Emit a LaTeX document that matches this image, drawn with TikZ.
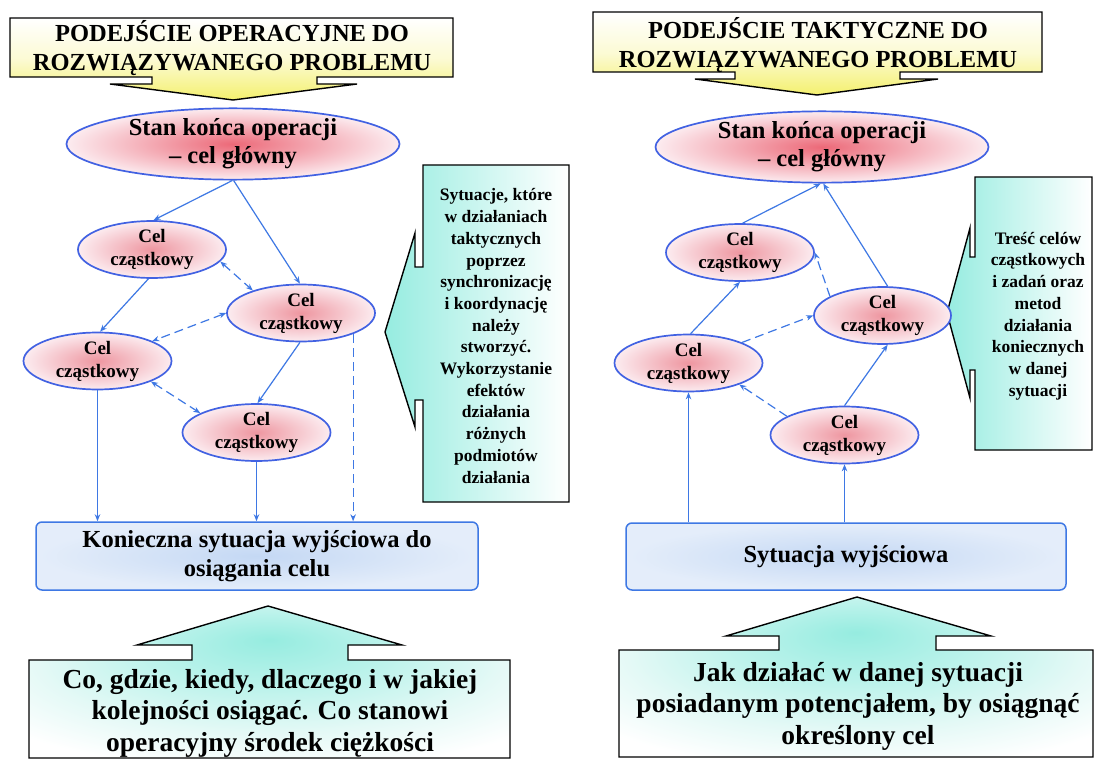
\documentclass[tikz,border=0pt]{standalone}
\usepackage{fontspec}
\setmainfont{Liberation Serif}
\usetikzlibrary{shapes.geometric,arrows.meta,calc}
\definecolor{lineb}{RGB}{62,120,228}
\definecolor{ellb}{RGB}{66,98,226}
\definecolor{mainred}{RGB}{236,105,120}
\definecolor{celred}{RGB}{238,150,160}
\definecolor{pinkout}{RGB}{252,236,240}
\definecolor{yelf}{RGB}{244,240,110}
\definecolor{cyf}{RGB}{150,236,224}
\definecolor{cyl}{RGB}{228,249,246}
\definecolor{boxb}{RGB}{196,216,244}
\pgfdeclareradialshading{cyupper}{\pgfpoint{0bp}{14bp}}{color(0bp)=(cyf); color(12bp)=(cyf!65!white); color(24bp)=(cyl); color(34bp)=(white); color(50bp)=(white)}
\tikzset{
  conn/.style={draw=lineb, line width=1.2pt},
  dconn/.style={conn, dash pattern=on 9pt off 5pt},
  callout/.style={draw=black, line width=1.4pt, line join=miter},
  cel/.style={ellipse, draw=ellb, line width=1.7pt, minimum width=148pt, minimum height=55pt,
    inner sep=0pt, align=center, inner color=celred, outer color=pinkout,
    font=\bfseries\fontsize{19pt}{23pt}\selectfont},
  mainell/.style={cel, minimum width=333pt, minimum height=63pt, inner color=mainred,
    font=\bfseries\fontsize{24.5pt}{28pt}\selectfont},
  sitbox/.style={rectangle, rounded corners=6pt, draw=lineb, line width=1.5pt,
    inner color=boxb, outer color=boxb!45, align=center,
    font=\bfseries\fontsize{24.5pt}{29.5pt}\selectfont},
  headtxt/.style={align=center, font=\bfseries\fontsize{24.5pt}{29pt}\selectfont},
  sidetxt/.style={align=center, font=\bfseries\fontsize{17.5pt}{21.7pt}\selectfont},
  bottxt/.style={align=center, font=\bfseries\fontsize{27.5pt}{31.5pt}\selectfont},
}
\begin{document}
\begin{tikzpicture}[x=1pt,y=-1pt,>={Stealth[length=7pt,width=5.5pt]}]
\useasboundingbox (0,0) rectangle (1094,762);
\fill[white] (0,0) rectangle (1094,762);

% ---------- callouts (background shapes) ----------
\draw[callout, top color=white, bottom color=yelf, middle color=yelf!30]
  (10,18) -- (453,18) -- (453,77) -- (317,77) -- (317,84) -- (357,84) -- (233,100)
  -- (110,84) -- (152,84) -- (152,77) -- (10,77) -- cycle;
\draw[callout, top color=white, bottom color=yelf, middle color=yelf!30]
  (593,12) -- (1042,12) -- (1042,72) -- (900,72) -- (900,79) -- (938,79) -- (817,95)
  -- (695,79) -- (735,79) -- (735,72) -- (593,72) -- cycle;
\draw[callout, left color=cyf, right color=white]
  (423,165) -- (569,165) -- (569,502) -- (423,502) -- (423,400) -- (415,400) -- (415,427)
  -- (385,332) -- (415,233) -- (415,267) -- (423,267) -- cycle;
\draw[callout, left color=cyf, right color=white]
  (975,177) -- (1092,177) -- (1092,450) -- (975,450) -- (975,370) -- (970,370) -- (970,398)
  -- (947,313) -- (970,228) -- (970,257) -- (975,257) -- cycle;
\draw[callout, shading=cyupper]
  (29,660) -- (192,660) -- (192,645) -- (137,645) -- (268,606) -- (402,645) -- (348,645)
  -- (348,660) -- (510,660) -- (510,758) -- (29,758) -- cycle;
\draw[callout, shading=cyupper]
  (619,650) -- (779,650) -- (779,636) -- (726,636) -- (857,597) -- (991,636) -- (936,636)
  -- (936,650) -- (1093,650) -- (1093,757) -- (619,757) -- cycle;

% ---------- callout texts ----------
\node[headtxt] (hL) at (232,48) {PODEJŚCIE OPERACYJNE DO\\ROZWIĄZYWANEGO PROBLEMU};
\node[headtxt] (hR) at (818,45) {PODEJŚCIE TAKTYCZNE DO\\ROZWIĄZYWANEGO PROBLEMU};
\node[sidetxt] (sL) at (496,336) {Sytuacje, które\\w działaniach\\taktycznych\\poprzez\\synchronizację\\i koordynację\\należy\\stworzyć.\\Wykorzystanie\\efektów\\działania\\różnych\\podmiotów\\działania};
\node[sidetxt] (sR) at (1038,316) {Treść celów\\cząstkowych\\i zadań oraz\\metod\\działania\\koniecznych\\w danej\\sytuacji};
\node[bottxt] (qL) at (270,713) {Co, gdzie, kiedy, dlaczego i w jakiej\\kolejności osiągać. Co stanowi\\operacyjny środek ciężkości};
\node[bottxt] (qR) at (858,706) {Jak działać w danej sytuacji\\posiadanym potencjałem, by osiągnąć\\określony cel};

% ---------- left graph ----------
\node[mainell] (mL) at (233,144) {Stan końca operacji\\– cel główny};
\node[cel] (c1) at (152,249.5) {Cel\\cząstkowy};
\node[cel] (c2) at (301,313) {Cel\\cząstkowy};
\node[cel] (c3) at (97.5,361) {Cel\\cząstkowy};
\node[cel] (c4) at (256.5,432.5) {Cel\\cząstkowy};
\node[sitbox, minimum width=442pt, minimum height=68pt] (bL) at (257,556)
  {Konieczna sytuacja wyjściowa do\\osiągania celu};

\draw[conn,->] (mL.-91) -- (c1.87);
\draw[conn,->] (mL.-89) -- (c2.92);
\draw[conn,->] (c1.-97) -- (c3.85);
\draw[dconn,<->] (c1.-10) -- (c2.155);
\draw[dconn,<->] (c2.180) -- (c3.20);
\draw[conn,->] (c2.-92) -- (c4.88);
\draw[dconn,<->] (c3.-21) -- (c4.161);
\draw[conn,->] (c3.south) -- (c3.south |- bL.north);
\draw[conn,->] (c4.south) -- (c4.south |- bL.north);
\draw[dconn,->] (c2.-22) -- (c2.-22 |- bL.north);

% ---------- right graph ----------
\node[mainell] (mR) at (822,147) {Stan końca operacji\\– cel główny};
\node[cel] (cA) at (740,252.5) {Cel\\cząstkowy};
\node[cel, minimum width=137pt] (cB) at (882.5,315.5) {Cel\\cząstkowy};
\node[cel] (cC) at (688.5,363) {Cel\\cząstkowy};
\node[cel] (cD) at (844.5,435) {Cel\\cząstkowy};
\node[sitbox, minimum width=440pt, minimum height=67pt] (bR) at (846,556.5)
  {Sytuacja wyjściowa};

\draw[conn,->] (cA.85) -- (mR.-92);
\draw[conn,->] (cB.80) -- (mR.-88);
\draw[conn,->] (cC.86) -- (cA.south);
\draw[dconn,->] (cB.160) -- (cA.0);
\draw[dconn,->] (cC.21) -- (cB.180);
\draw[dconn,->] (cD.162) -- (cC.-23);
\draw[conn,->] (cD.north) -- (cB.-80);
\draw[conn,->] (cC.south |- bR.north) -- (cC.south);
\draw[conn,->] (cD.south |- bR.north) -- (cD.south);
\end{tikzpicture}
\end{document}
